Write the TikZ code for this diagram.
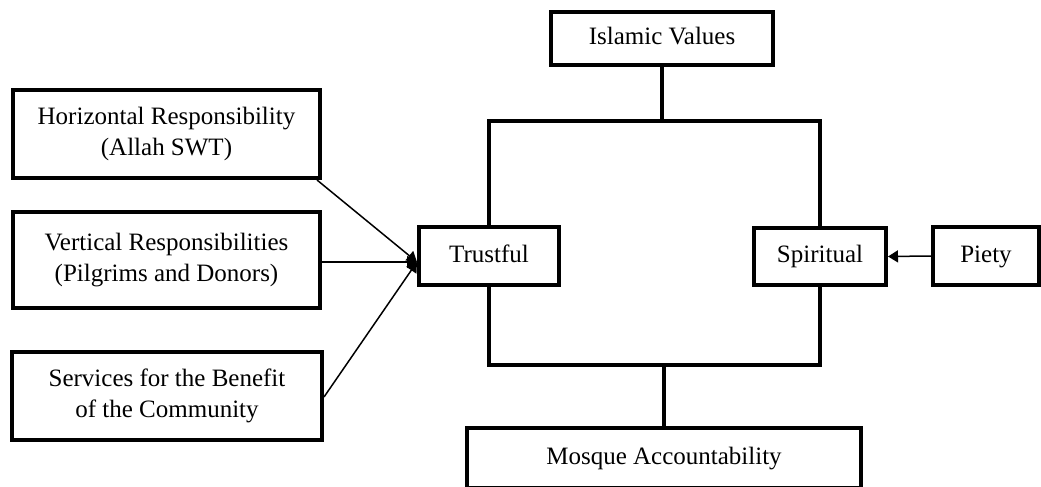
\documentclass[tikz,border=0pt]{standalone}
\usepackage{fontspec}
\setmainfont{Liberation Serif}
\usetikzlibrary{arrows.meta}
\begin{document}
\begin{tikzpicture}[x=1pt,y=-1pt,
  boxnode/.style={draw=black,line width=4pt,fill=white,align=center,inner sep=2pt,
    font=\fontsize{25}{31}\selectfont},
  bar/.style={line width=4pt},
  conn/.style={line width=1.5pt,-{Triangle[length=10pt,width=12pt]}}]
\useasboundingbox (0,0) rectangle (1041,487);
\node[boxnode,minimum width=222pt,minimum height=53pt] (iv) at (662,38.5) {\strut Islamic Values};
\node[boxnode,minimum width=307pt,minimum height=88pt] (hr) at (166.5,134) {\strut Horizontal Responsibility\\\strut (Allah SWT)};
\node[boxnode,minimum width=307pt,minimum height=96pt] (vr) at (166.5,260) {\strut Vertical Responsibilities\\\strut (Pilgrims and Donors)};
\node[boxnode,minimum width=310pt,minimum height=88pt] (sv) at (167,396) {\strut Services for the Benefit\\\strut of the Community};
\node[boxnode,minimum width=140pt,minimum height=58pt] (tr) at (489,256) {\strut Trustful};
\node[boxnode,minimum width=132pt,minimum height=57pt] (sp) at (820,256.5) {\strut Spiritual};
\node[boxnode,minimum width=106pt,minimum height=58pt] (pi) at (986,256) {\strut Piety};
\node[boxnode,minimum width=394pt,minimum height=60pt] (ma) at (664,458) {\strut Mosque Accountability};
\coordinate (top) at (662,121);
\coordinate (bot) at (664,365);
\draw[bar] (iv.south) -- (top);
\draw[bar] (tr.north) |- (top) -| (sp.north);
\draw[bar] (tr.south) |- (bot) -| (sp.south);
\draw[bar] (bot) -- (ma.north);
\coordinate (tin) at ([yshift=-6pt]tr.west);
\draw[conn] ([xshift=-5pt]hr.south east) -- (tin);
\draw[conn] (vr.east |- tin) -- (tin);
\draw[conn] ([yshift=-1pt]sv.east) -- (tin);
\draw[conn] (pi.west) -- (sp.east);
\end{tikzpicture}
\end{document}
